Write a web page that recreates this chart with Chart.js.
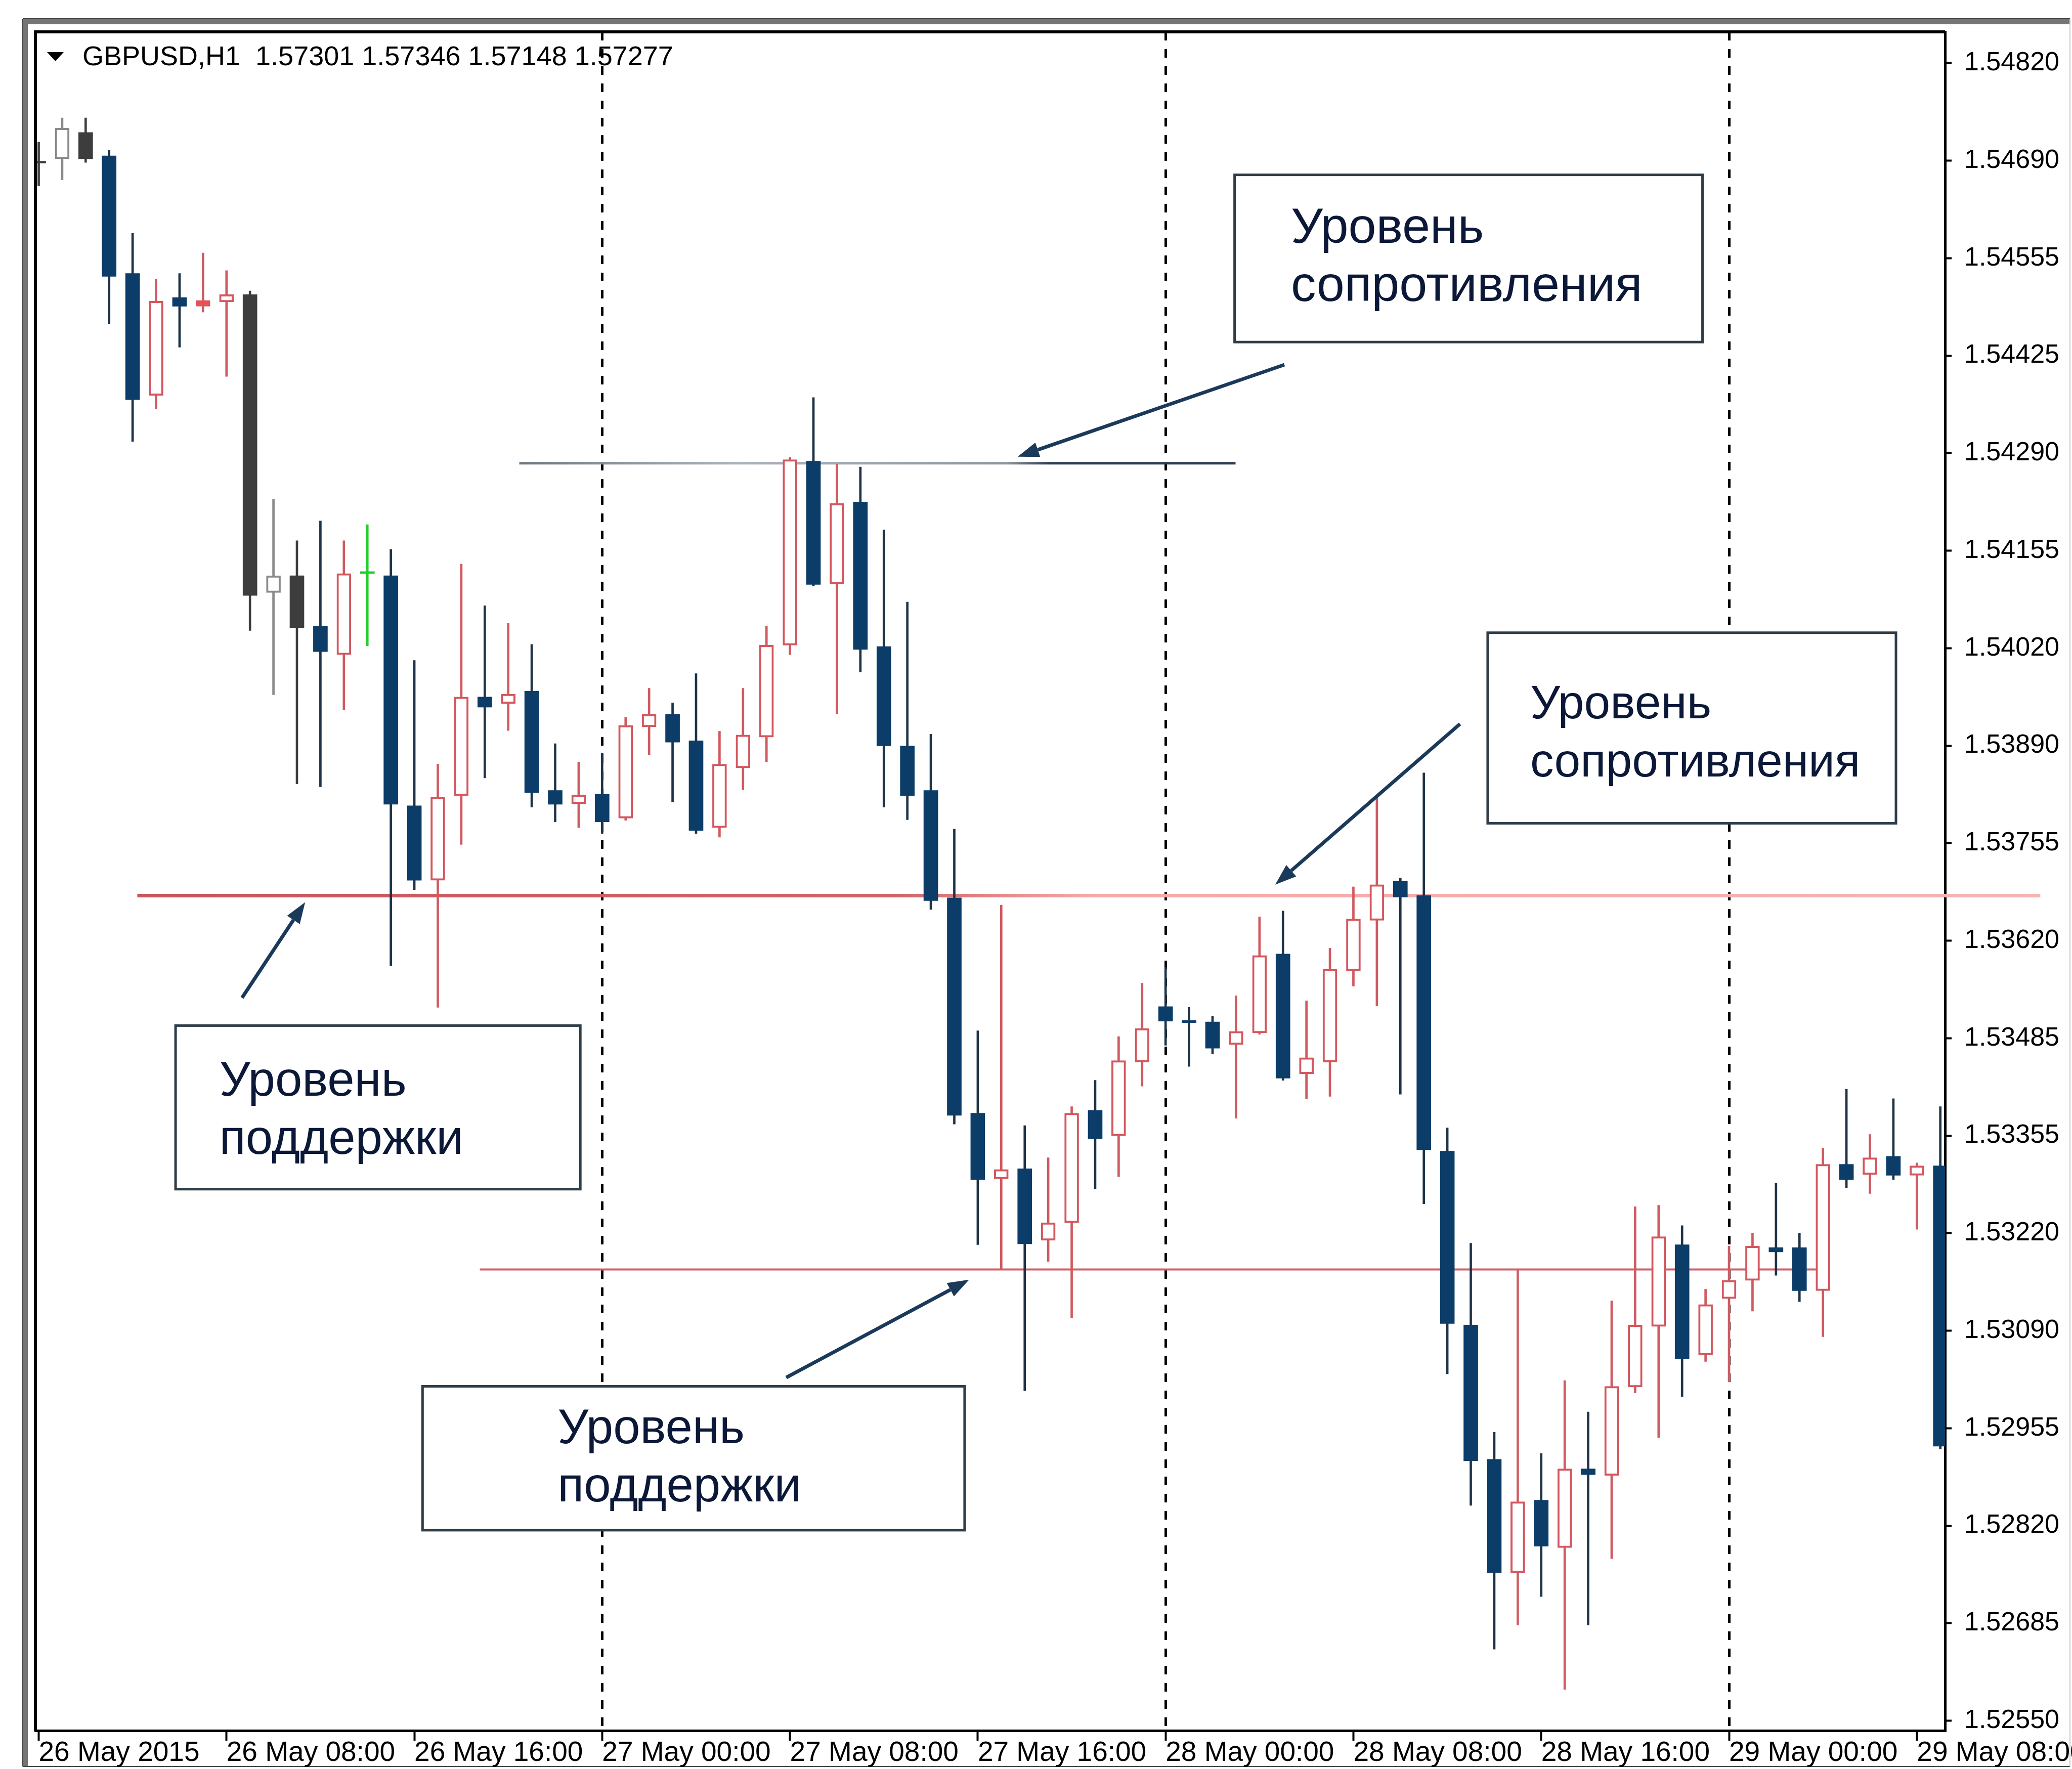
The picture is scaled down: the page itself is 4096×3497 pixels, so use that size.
<!DOCTYPE html>
<html>
<head>
<meta charset="utf-8">
<script src="https://cdn.jsdelivr.net/npm/chart.js@4.4.1/dist/chart.umd.min.js"></script>
<style>
  html, body { margin: 0; padding: 0; background: #fff; }
  canvas { display: block; }
</style>
</head>
<body>
<canvas id="chart" width="4096" height="3497"></canvas>
<script>
// GBPUSD H1, 26-29 May 2015, one candle per hour (index 0 = 26 May 00:00)
const openPrices = [
  1.54683, 1.54689, 1.54725, 1.54693, 1.54532, 1.54365, 1.54499, 1.54487, 1.54493, 1.54503,
  1.54095, 1.54118, 1.54049, 1.54010, 1.54121, 1.54118, 1.53803, 1.53701, 1.53817, 1.53952,
  1.53943, 1.53960, 1.53824, 1.53806, 1.53819, 1.53786, 1.53911, 1.53928, 1.53892, 1.53773,
  1.53855, 1.53897, 1.54023, 1.54275, 1.54107, 1.54219, 1.54021, 1.53885, 1.53824, 1.53677,
  1.53382, 1.53292, 1.53306, 1.53208, 1.53232, 1.53386, 1.53351, 1.53452, 1.53528, 1.53509,
  1.53507, 1.53476, 1.53492, 1.53600, 1.53436, 1.53452, 1.53577, 1.53646, 1.53700, 1.53680,
  1.53330, 1.53092, 1.52908, 1.52753, 1.52852, 1.52787, 1.52895, 1.52886, 1.53007, 1.53090,
  1.53202, 1.53051, 1.53128, 1.53153, 1.53198, 1.53198, 1.53139, 1.53312, 1.53298, 1.53323,
  1.53297, 1.53310
];
const highPrices = [
  1.54712, 1.54745, 1.54745, 1.54701, 1.54587, 1.54524, 1.54532, 1.54560, 1.54536, 1.54508,
  1.54223, 1.54166, 1.54193, 1.54166, 1.54188, 1.54154, 1.54002, 1.53860, 1.54134, 1.54077,
  1.54053, 1.54024, 1.53888, 1.53863, 1.53875, 1.53924, 1.53964, 1.53944, 1.53984, 1.53905,
  1.53964, 1.54049, 1.54280, 1.54362, 1.54271, 1.54267, 1.54181, 1.54082, 1.53901, 1.53771,
  1.53495, 1.53667, 1.53365, 1.53321, 1.53391, 1.53427, 1.53487, 1.53560, 1.53582, 1.53527,
  1.53515, 1.53543, 1.53651, 1.53659, 1.53536, 1.53608, 1.53692, 1.53815, 1.53704, 1.53848,
  1.53362, 1.53204, 1.52945, 1.53167, 1.52916, 1.53016, 1.52973, 1.53125, 1.53254, 1.53256,
  1.53228, 1.53141, 1.53200, 1.53218, 1.53286, 1.53218, 1.53334, 1.53415, 1.53353, 1.53402,
  1.53314, 1.53391
];
const lowPrices = [
  1.54652, 1.54660, 1.54684, 1.54463, 1.54302, 1.54347, 1.54431, 1.54479, 1.54391, 1.54043,
  1.53955, 1.53833, 1.53829, 1.53934, 1.54022, 1.53584, 1.53688, 1.53527, 1.53750, 1.53841,
  1.53906, 1.53801, 1.53781, 1.53773, 1.53765, 1.53783, 1.53873, 1.53808, 1.53765, 1.53760,
  1.53825, 1.53863, 1.54010, 1.54104, 1.53929, 1.53986, 1.53801, 1.53784, 1.53661, 1.53367,
  1.53202, 1.53168, 1.53002, 1.53179, 1.53102, 1.53278, 1.53295, 1.53419, 1.53475, 1.53446,
  1.53463, 1.53375, 1.53490, 1.53427, 1.53402, 1.53405, 1.53556, 1.53529, 1.53408, 1.53258,
  1.53025, 1.52845, 1.52648, 1.52681, 1.52720, 1.52593, 1.52681, 1.52772, 1.52999, 1.52938,
  1.52994, 1.53042, 1.53014, 1.53111, 1.53160, 1.53124, 1.53076, 1.53280, 1.53272, 1.53291,
  1.53223, 1.52922
];
const closePrices = [
  1.54683, 1.54731, 1.54689, 1.54528, 1.54359, 1.54494, 1.54487, 1.54495, 1.54503, 1.54091,
  1.54118, 1.54047, 1.54014, 1.54121, 1.54121, 1.53805, 1.53701, 1.53815, 1.53952, 1.53938,
  1.53956, 1.53821, 1.53805, 1.53818, 1.53781, 1.53913, 1.53928, 1.53890, 1.53769, 1.53860,
  1.53900, 1.54023, 1.54277, 1.54106, 1.54217, 1.54017, 1.53885, 1.53817, 1.53673, 1.53379,
  1.53291, 1.53305, 1.53203, 1.53232, 1.53382, 1.53347, 1.53454, 1.53498, 1.53508, 1.53506,
  1.53471, 1.53494, 1.53598, 1.53430, 1.53458, 1.53579, 1.53648, 1.53695, 1.53678, 1.53332,
  1.53094, 1.52906, 1.52753, 1.52850, 1.52789, 1.52895, 1.52887, 1.53008, 1.53092, 1.53213,
  1.53046, 1.53120, 1.53153, 1.53200, 1.53192, 1.53139, 1.53312, 1.53291, 1.53321, 1.53297,
  1.53310, 1.52926
];

const xTickLabels = [
  '26 May 2015', '26 May 08:00', '26 May 16:00', '27 May 00:00', '27 May 08:00', '27 May 16:00',
  '28 May 00:00', '28 May 08:00', '28 May 16:00', '29 May 00:00', '29 May 08:00'
];
const yTickLabels = [
  '1.52550', '1.52685', '1.52820', '1.52955', '1.53090', '1.53220', '1.53355', '1.53485', '1.53620',
  '1.53755', '1.53890', '1.54020', '1.54155', '1.54290', '1.54425', '1.54555', '1.54690', '1.54820'
];

const headerSymbol = 'GBPUSD,H1';
const headerValues = ['1.57301', '1.57346', '1.57148', '1.57277'];

// support / resistance levels drawn on the chart (price, from index, to index)
const levelPrices = [1.54272, 1.53680, 1.53168];
const levelFrom = [20.47, 4.2, 18.79];
const levelTo = [50.98, 85.26, 75.70];

// callout boxes: [left idx, right idx, top price, bottom price], text anchor [idx, price]
const noteTexts = [
  ['Уровень', 'сопротивления'],
  ['Уровень', 'сопротивления'],
  ['Уровень', 'поддержки'],
  ['Уровень', 'поддержки']
];
const noteBoxes = [
  [50.94, 70.87, 1.54667, 1.54438],
  [61.72, 79.11, 1.54040, 1.53779],
  [5.83, 23.07, 1.53502, 1.53278],
  [16.35, 39.44, 1.53008, 1.52811]
];
const noteAnchors = [
  [53.34, 1.54574],
  [63.53, 1.53923],
  [7.70, 1.53406],
  [22.10, 1.52930]
];
const noteFontSizes = [99, 93, 96, 96];
// arrows: tail -> head, [idx, price]
const arrowTails = [[53.06, 1.54407], [60.54, 1.53915], [8.66, 1.53540], [31.84, 1.53020]];
const arrowHeads = [[41.70, 1.54281], [52.67, 1.53695], [11.35, 1.53671], [39.63, 1.53154]];

const FONT = '"Liberation Sans", Arial, sans-serif';

const grayCandles = [0, 1, 2, 9, 10, 11];
function isUp(i) { return closePrices[i] > openPrices[i]; }
function candleColors(i) {
  const up = isUp(i);
  if (i === 14) return { body: '#22d02a', edge: '#22d02a', wick: '#22d02a' };
  if (grayCandles.includes(i)) {
    return up ? { body: '#ffffff', edge: '#8a8a8a', wick: '#8a8a8a' }
              : { body: '#3d3d3d', edge: '#3d3d3d', wick: '#3d3d3d' };
  }
  if (i === 7) return { body: '#ff4848', edge: '#d4575e', wick: '#cf5a60' };
  return up ? { body: '#ffffff', edge: '#d4575e', wick: '#cf5a60' }
            : { body: '#0c3c68', edge: '#0c3c68', wick: '#1e3347' };
}

const levelColors = [
  [[0, '#6d7884'], [0.3, '#a9b3bd'], [0.68, '#8c96a0'], [0.74, '#2c3f52'], [1, '#2c3f52']],
  [[0, '#c9545b'], [0.4, '#d0646a'], [0.5, '#f7a7a7'], [1, '#f6b3b3']],
  [[0, '#cf6068'], [1, '#cf6068']]
];
const levelWidths = [5, 7, 4];

function levelColor(chart, k) {
  const { ctx, chartArea, scales } = chart;
  if (!chartArea) return levelColors[k][0][1];
  const x0 = scales.x.getPixelForValue(levelFrom[k]);
  const x1 = scales.x.getPixelForValue(levelTo[k]);
  const g = ctx.createLinearGradient(x0, 0, x1, 0);
  levelColors[k].forEach(s => g.addColorStop(s[0], s[1]));
  return g;
}

const levelDatasets = levelPrices.map((p, k) => ({
  type: 'line',
  order: 3,
  data: [{ x: levelFrom[k], y: p }, { x: levelTo[k], y: p }],
  borderColor: c => levelColor(c.chart, k),
  borderWidth: levelWidths[k],
  pointRadius: 0,
  clip: false
}));

// window frame, plot borders, header, callouts
const decorations = {
  id: 'decorations',
  beforeDraw(chart) {
    const { ctx, width, height } = chart;
    ctx.save();
    ctx.fillStyle = '#fff';
    ctx.fillRect(0, 0, width, height);
    ctx.fillStyle = '#757575';
    ctx.fillRect(45, 37, 4092 - 45, 11);
    ctx.fillRect(45, 37, 10, 3492 - 37);
    ctx.strokeStyle = '#444';
    ctx.lineWidth = 2;
    ctx.beginPath();
    ctx.moveTo(45, 37); ctx.lineTo(4092, 37);
    ctx.moveTo(45, 37); ctx.lineTo(45, 3492);
    ctx.moveTo(45, 3492); ctx.lineTo(4092, 3492);
    ctx.stroke();
    ctx.strokeStyle = '#c8c8c8';
    ctx.beginPath(); ctx.moveTo(4092, 37); ctx.lineTo(4092, 3492); ctx.stroke();
    ctx.restore();
  },
  afterDatasetsDraw(chart) {
    const { ctx, scales } = chart;
    const px = v => scales.x.getPixelForValue(v);
    const py = v => scales.y.getPixelForValue(v);
    ctx.save();

    // arrows
    ctx.strokeStyle = '#1b3a5a';
    ctx.fillStyle = '#1b3a5a';
    ctx.lineWidth = 7;
    arrowTails.forEach((t, k) => {
      const x1 = px(t[0]), y1 = py(t[1]);
      const x2 = px(arrowHeads[k][0]), y2 = py(arrowHeads[k][1]);
      const a = Math.atan2(y2 - y1, x2 - x1);
      const len = 42, half = 15;
      const bx = x2 - len * Math.cos(a), by = y2 - len * Math.sin(a);
      ctx.beginPath();
      ctx.moveTo(x1, y1); ctx.lineTo(bx, by);
      ctx.stroke();
      ctx.beginPath();
      ctx.moveTo(x2, y2);
      ctx.lineTo(bx + half * Math.sin(a), by - half * Math.cos(a));
      ctx.lineTo(bx - half * Math.sin(a), by + half * Math.cos(a));
      ctx.closePath();
      ctx.fill();
    });

    // callout boxes
    noteBoxes.forEach((b, k) => {
      const l = px(b[0]), r = px(b[1]), t = py(b[2]), bt = py(b[3]);
      ctx.fillStyle = '#fff';
      ctx.fillRect(l, t, r - l, bt - t);
      ctx.strokeStyle = '#2e3d48';
      ctx.lineWidth = 5;
      ctx.strokeRect(l, t, r - l, bt - t);
      ctx.fillStyle = '#0b1838';
      ctx.font = `${noteFontSizes[k]}px ${FONT}`;
      ctx.textAlign = 'left';
      ctx.textBaseline = 'alphabetic';
      const tx = px(noteAnchors[k][0]), ty = py(noteAnchors[k][1]);
      noteTexts[k].forEach((line, j) => ctx.fillText(line, tx, ty + j * 115));
    });
    ctx.restore();
  },
  afterDraw(chart) {
    const { ctx, chartArea } = chart;
    ctx.save();
    ctx.fillStyle = '#000';
    ctx.fillRect(chartArea.left - 3, chartArea.top - 3, chartArea.right - chartArea.left + 3, 6);
    ctx.fillRect(chartArea.left - 3, chartArea.top - 3, 6, chartArea.bottom - chartArea.top + 3);

    // symbol header
    ctx.beginPath();
    ctx.moveTo(93, 103); ctx.lineTo(126, 103); ctx.lineTo(109.5, 121);
    ctx.closePath();
    ctx.fill();
    ctx.font = `54px ${FONT}`;
    ctx.textBaseline = 'alphabetic';
    ctx.fillText(headerSymbol + '  ' + headerValues.join(' '), 163, 129);
    ctx.restore();
  }
};

const yFirst = parseFloat(yTickLabels[0]);
const yLast = parseFloat(yTickLabels[yTickLabels.length - 1]);

new Chart(document.getElementById('chart'), {
  type: 'bar',
  data: {
    datasets: [
      ...levelDatasets,
      {
        label: 'wicks',
        order: 2,
        grouped: false,
        data: lowPrices.map((l, i) => ({ x: i, y: [l, highPrices[i]] })),
        barThickness: 4,
        backgroundColor: c => candleColors(c.dataIndex).wick,
        borderWidth: 0
      },
      {
        label: 'bodies',
        order: 1,
        grouped: false,
        data: openPrices.map((o, i) => ({ x: i, y: [o, closePrices[i]] })),
        barThickness: 28,
        minBarLength: 4,
        backgroundColor: c => candleColors(c.dataIndex).body,
        borderColor: c => candleColors(c.dataIndex).edge,
        borderWidth: c => (isUp(c.dataIndex) && c.dataIndex !== 14 ? 4 : 0),
        borderSkipped: false
      }
    ]
  },
  options: {
    responsive: false,
    animation: false,
    events: [],
    layout: { padding: { left: 70, top: 63, right: 0, bottom: 0 } },
    plugins: { legend: { display: false }, tooltip: { enabled: false } },
    scales: {
      x: {
        type: 'linear',
        min: -0.14,
        max: 81.2,
        offset: false,
        afterBuildTicks: axis => {
          axis.ticks = xTickLabels.map((_, k) => ({ value: k * 8 }));
        },
        afterFit: axis => {
          axis.height = 76;
          axis.paddingLeft = 0;
          axis.paddingRight = 0;
        },
        ticks: {
          autoSkip: false,
          maxRotation: 0,
          align: 'start',
          padding: -3,
          color: '#000',
          font: { family: FONT, size: 55, lineHeight: 1 },
          callback: (v, k) => xTickLabels[k]
        },
        grid: {
          offset: false,
          drawOnChartArea: true,
          color: c => (c.tick && c.tick.value > 0 && c.tick.value % 24 === 0 ? '#000' : 'rgba(0,0,0,0)'),
          lineWidth: 5,
          tickLength: 20,
          tickColor: '#000',
          tickWidth: 4
        },
        border: { display: true, color: '#000', width: 5, dash: [17, 17] }
      },
      y: {
        type: 'linear',
        position: 'right',
        min: 1.525366,
        max: 1.548628,
        beginAtZero: false,
        afterBuildTicks: axis => {
          const n = yTickLabels.length;
          axis.ticks = yTickLabels.map((_, k) => ({ value: yFirst + k * (yLast - yFirst) / (n - 1) }));
        },
        afterFit: axis => {
          axis.width = 251;
          axis.paddingTop = 0;
          axis.paddingBottom = 0;
        },
        ticks: {
          padding: 25,
          color: '#000',
          font: { family: FONT, size: 52 },
          callback: (v, k) => yTickLabels[k]
        },
        grid: {
          drawOnChartArea: false,
          tickLength: 13,
          tickColor: '#000',
          tickWidth: 4
        },
        border: { display: true, color: '#000', width: 5 }
      }
    }
  },
  plugins: [decorations]
});
</script>
</body>
</html>
